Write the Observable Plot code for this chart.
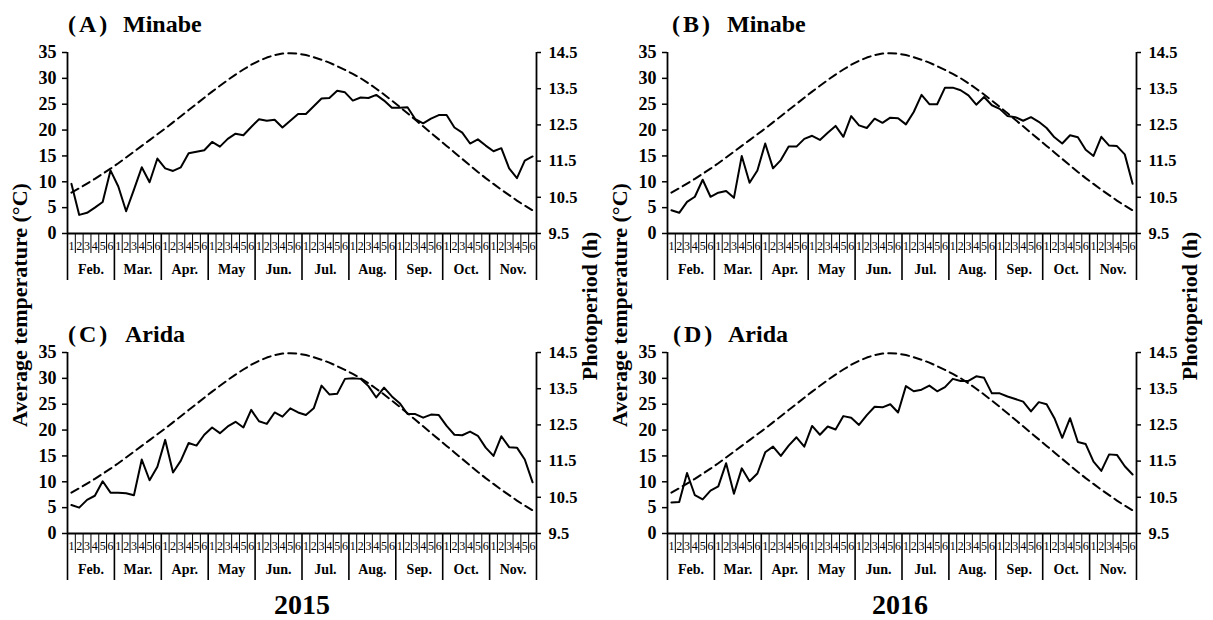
<!DOCTYPE html>
<html><head><meta charset="utf-8">
<script src="https://cdn.jsdelivr.net/npm/d3@7"></script>
<script src="https://cdn.jsdelivr.net/npm/@observablehq/plot@0.6"></script>
<style>
body{margin:0;background:#fff;}
#fig{position:relative;width:1213px;height:620px;overflow:hidden;background:#fff;}
.panel{position:absolute;}
#overlay{position:absolute;left:0;top:0;}
svg text{fill:#000;}
</style></head><body><div id="fig"></div>
<script>
// ---- data ----
const months = ["Feb.","Mar.","Apr.","May","Jun.","Jul.","Aug.","Sep.","Oct.","Nov."];
const pentadLabels = ["1","2","3","4","5","6"];
const tempTicks = [0,5,10,15,20,25,30,35];
const photoTicks = [9.5,10.5,11.5,12.5,13.5,14.5];
const photoperiod = [10.63,10.75,10.88,11.01,11.15,11.29,11.44,11.60,11.76,11.92,12.08,12.24,12.40,12.57,12.74,12.91,13.08,13.25,13.42,13.58,13.74,13.89,14.03,14.16,14.27,14.36,14.43,14.47,14.48,14.47,14.43,14.37,14.30,14.22,14.12,14.02,13.91,13.79,13.65,13.50,13.34,13.17,13.00,12.82,12.64,12.46,12.28,12.10,11.92,11.74,11.56,11.38,11.20,11.03,10.87,10.71,10.56,10.41,10.27,10.14];
const tempMinabe2015 = [9.6,3.6,4.0,5.0,6.1,12.2,9.1,4.3,8.5,12.8,9.9,14.5,12.6,12.1,12.8,15.5,15.8,16.1,17.7,16.8,18.3,19.3,19.0,20.6,22.1,21.8,22.0,20.5,21.8,23.1,23.1,24.6,26.1,26.2,27.6,27.3,25.7,26.3,26.2,26.8,25.7,24.3,24.3,24.4,22.1,21.3,22.2,22.9,22.9,20.5,19.5,17.4,18.2,17.0,15.9,16.5,12.6,10.7,14.1,14.9];
const tempMinabe2016 = [4.5,4.0,6.1,7.1,10.4,7.1,7.9,8.2,6.9,15.0,9.8,12.2,17.4,12.6,14.2,16.8,16.8,18.3,18.9,18.1,19.5,20.8,18.7,22.7,20.9,20.4,22.2,21.4,22.4,22.3,21.1,23.5,26.8,25.0,25.0,28.2,28.2,27.7,26.7,24.9,26.4,24.8,24.1,22.7,22.5,21.8,22.5,21.6,20.4,18.6,17.4,19.0,18.6,16.2,15.0,18.7,17.0,16.9,15.3,9.6];
const tempArida2015 = [5.5,5.0,6.5,7.3,10.1,7.9,7.9,7.8,7.4,14.3,10.3,12.9,18.1,11.8,14.1,17.5,17.0,19.1,20.5,19.4,20.7,21.6,20.5,23.9,21.7,21.2,23.4,22.6,24.2,23.4,22.9,24.2,28.6,26.9,27.0,29.9,30.0,29.9,28.5,26.3,28.2,26.5,25.2,23.1,23.1,22.4,23.0,22.9,20.8,19.1,19.0,19.7,18.9,16.6,15.0,18.8,16.7,16.6,14.3,9.9];
const tempArida2016 = [6.0,6.1,11.7,7.4,6.6,8.3,9.1,13.6,7.7,12.6,10.1,11.6,15.7,16.8,15.0,17.0,18.6,16.8,20.8,19.1,20.7,20.1,22.7,22.4,21.0,22.9,24.5,24.4,25.0,23.4,28.5,27.5,27.8,28.6,27.5,28.3,29.9,29.5,29.5,30.4,30.1,27.1,27.1,26.5,26.0,25.5,23.6,25.4,25.0,22.3,18.5,22.3,17.7,17.3,13.9,12.1,15.3,15.2,13.0,11.4];

const FONT = "'Liberation Serif','Times New Roman',serif";
const pentadIdx = d3.range(60);
const pentadEdges = d3.range(60).map(i => i + 0.5).filter(v => (v + 0.5) % 6 !== 0);
const monthEdges = d3.range(11).map(k => k * 6 - 0.5);
const toTemp = p => (p - 9.5) * 7;

function panel(temps) {
  const rows = temps.map((t, i) => ({i, t, p: photoperiod[i]}));
  return Plot.plot({
    width: 600, height: 300,
    marginLeft: 67, marginRight: 64, marginTop: 52, marginBottom: 67,
    x: {domain: [-0.5, 59.5]},
    y: {domain: [0, 35]},
    style: {fontFamily: FONT, color: "#000", background: "transparent", overflow: "visible"},
    marks: [
      Plot.axisY(tempTicks, {anchor: "left", tickSize: 5, tickPadding: 6, fontSize: 18, fontWeight: "bold", strokeWidth: 1.5, fill: "#000", label: null}),
      Plot.axisY(photoTicks.map(toTemp), {anchor: "right", tickSize: 4, tickPadding: 8, fontSize: 16.5, fontWeight: "bold", strokeWidth: 1.5, fill: "#000", label: null,
        tickFormat: v => photoTicks[Math.round(v / 7)].toFixed(1)}),
      Plot.ruleX([-0.5, 59.5], {stroke: "#000", strokeWidth: 1.8}),
      Plot.ruleY([0], {stroke: "#000", strokeWidth: 1.8}),
      Plot.axisX(pentadEdges, {anchor: "bottom", tickSize: 20, tickFormat: () => "", strokeWidth: 1, label: null}),
      Plot.axisX(monthEdges, {anchor: "bottom", tickSize: 47, tickFormat: () => "", strokeWidth: 1.6, label: null}),
      Plot.axisX(pentadIdx, {anchor: "bottom", tickSize: 0, tickPadding: 8, fontSize: 12, fill: "#000", label: null,
        tickFormat: i => pentadLabels[i % 6]}),
      Plot.text(months, {x: (m, k) => k * 6 + 2.5, text: d => d, frameAnchor: "bottom", dy: 40,
        fontSize: 14, fontWeight: "bold", fill: "#000"}),
      Plot.line(rows, {x: "i", y: d => toTemp(d.p), stroke: "#000", strokeWidth: 2, strokeDasharray: "8,5"}),
      Plot.line(rows, {x: "i", y: "t", stroke: "#000", strokeWidth: 2})
    ]
  });
}

const fig = document.getElementById("fig");
const panels = [
  {temps: tempMinabe2015, left: 0, top: 0},
  {temps: tempMinabe2016, left: 600, top: 0},
  {temps: tempArida2015, left: 0, top: 300},
  {temps: tempArida2016, left: 600, top: 300}
];
for (const p of panels) {
  const el = panel(p.temps);
  el.classList.add("panel");
  el.style.left = p.left + "px";
  el.style.top = p.top + "px";
  fig.appendChild(el);
}

// ---- labels overlay ----
const titles = [
  {tag: "(A)", name: "Minabe", x: 68, nx: 123, y: 32},
  {tag: "(B)", name: "Minabe", x: 672, nx: 727, y: 32},
  {tag: "(C)", name: "Arida", x: 68, nx: 125, y: 342},
  {tag: "(D)", name: "Arida", x: 673, nx: 728, y: 342}
];
const years = [{text: "2015", x: 302}, {text: "2016", x: 900}];
const svg = d3.select(fig).append("svg").attr("id", "overlay")
  .attr("width", 1213).attr("height", 620)
  .style("font-family", FONT).style("font-weight", "bold").style("pointer-events", "none");
for (const t of titles) {
  svg.append("text").attr("x", t.x).attr("y", t.y).attr("font-size", 24).attr("letter-spacing", 3).text(t.tag);
  svg.append("text").attr("x", t.nx).attr("y", t.y).attr("font-size", 24).text(t.name);
}
for (const y of years) {
  svg.append("text").attr("x", y.x).attr("y", 614).attr("font-size", 28).attr("text-anchor", "middle").text(y.text);
}
for (const cx of [0, 600]) {
  svg.append("text").attr("transform", `translate(${cx + 27},305) rotate(-90)`)
    .attr("font-size", 22).attr("text-anchor", "middle").text("Average temperature (°C)");
  svg.append("text").attr("transform", `translate(${cx + 597},306) rotate(-90)`)
    .attr("font-size", 22).attr("text-anchor", "middle").text("Photoperiod (h)");
}
</script></body></html>
